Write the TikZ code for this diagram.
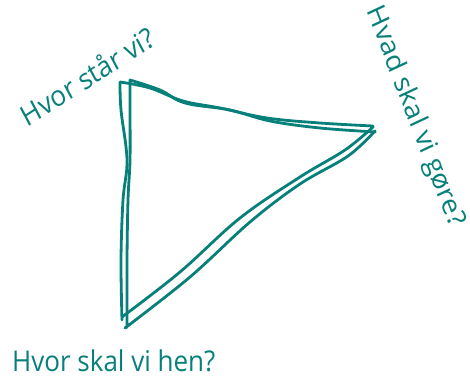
\documentclass[tikz,border=0pt]{standalone}
\usepackage{fontspec}
\setmainfont{Open Sans}
\usepackage{tikz}
\usetikzlibrary{calc}
\definecolor{handteal}{RGB}{8,128,122}
\tikzset{
  pen/.style={handteal,line width=2.8pt,line cap=round,line join=round},
  question/.style={handteal,font=\fontsize{26}{29}\selectfont,inner sep=0pt,yscale=1.1}
}
\begin{document}
\begin{tikzpicture}[x=1pt,y=-1pt]
                \useasboundingbox (0,0) rectangle (470,379);
                % first stroke of the triangle
                \draw[pen] plot[smooth,tension=0.6] coordinates {(120,82) (150,88) (183,101) (220,108) (267,118) (320,123) (373,126)}
                    -- plot[smooth,tension=0.6] coordinates {(373,127) (345,150) (300,177) (240,218) (180,272) (122,317)}
                    -- plot[smooth,tension=0.6] coordinates {(122,320) (121,260) (123,200) (127,160) (121,110) (120,82)};
                % second stroke, a little off
                \draw[pen] plot[smooth,tension=0.6] coordinates {(130,80) (160,90) (185,103) (230,110) (270,121) (320,128) (375,132)}
                    -- plot[smooth,tension=0.6] coordinates {(375,131) (348,156) (300,184) (250,222) (190,277) (125,328)}
                    -- plot[smooth,tension=0.6] coordinates {(127,327) (127,260) (128,200) (130,160) (130,110) (130,80)};
                \node[question,rotate=30.5] (now) at (87,76) {Hvor står vi?};
                \node[question,rotate=-67] (todo) at (415,117) {Hvad skal vi gøre?};
                \node[question,anchor=west] (goal) at (12,361) {Hvor skal vi hen?};
            \end{tikzpicture}
\end{document}
